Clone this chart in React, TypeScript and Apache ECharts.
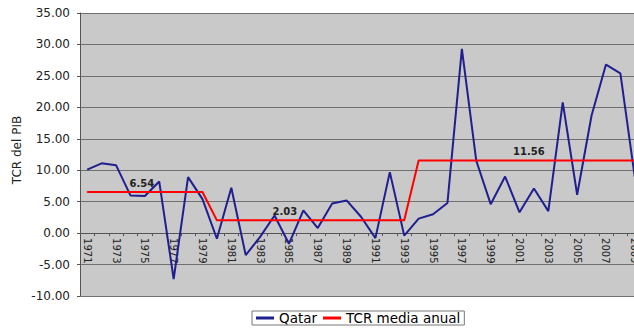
import React, { useEffect, useRef } from 'react';
import * as echarts from 'echarts';

const years = [
  '1971', '1972', '1973', '1974', '1975', '1976', '1977', '1978', '1979', '1980',
  '1981', '1982', '1983', '1984', '1985', '1986', '1987', '1988', '1989', '1990',
  '1991', '1992', '1993', '1994', '1995', '1996', '1997', '1998', '1999', '2000',
  '2001', '2002', '2003', '2004', '2005', '2006', '2007', '2008', '2009',
];

const qatar = [
  10.1, 11.1, 10.8, 6.0, 5.9, 8.2, -7.3, 8.9, 5.4, -0.9,
  7.2, -3.5, -0.6, 2.8, -1.7, 3.6, 0.8, 4.7, 5.2, 2.6,
  -0.8, 9.7, -0.4, 2.3, 3.0, 4.8, 29.3, 11.5, 4.6, 9.0,
  3.3, 7.1, 3.5, 20.8, 6.1, 18.7, 26.8, 25.4, 8.9,
];

const tcrMedia = [
  6.54, 6.54, 6.54, 6.54, 6.54, 6.54, 6.54, 6.54, 6.54, 2.03,
  2.03, 2.03, 2.03, 2.03, 2.03, 2.03, 2.03, 2.03, 2.03, 2.03,
  2.03, 2.03, 2.03, 11.56, 11.56, 11.56, 11.56, 11.56, 11.56, 11.56,
  11.56, 11.56, 11.56, 11.56, 11.56, 11.56, 11.56, 11.56, 11.56,
];

const labelYears = ['1975', '1985', '2002'];
const seriesNames = ['Qatar', 'TCR media anual'];
const yAxisTitle = 'TCR del PIB';
const yMin = -10;
const yMax = 35;

export default function App() {
  const ref = useRef<HTMLDivElement>(null);

  useEffect(() => {
    if (!ref.current) return;
    const chart = echarts.init(ref.current, null, { renderer: 'svg' });
    const gridTop = 13;
    const gridBottom = 38;
    const plotH = 334 - gridTop - gridBottom;
    // move the category axis up to the zero line
    const zeroOffset = -plotH * (0 - yMin) / (yMax - yMin);
    const labelOffsets: Record<string, number[]> = {
      '1975': [-3, 0],
      '1985': [-4, 0],
      '2002': [-5, 0],
    };
    const tcrData = tcrMedia.map((v, i) => {
      const y = years[i];
      if (labelYears.includes(y)) {
        return {
          value: v,
          label: {
            show: true,
            position: 'top',
            distance: 3,
            offset: labelOffsets[y],
            formatter: (p: any) => Number(p.value).toFixed(2),
            fontFamily: 'DejaVu Sans',
            fontWeight: 'bold',
            fontSize: 10,
            color: '#222',
          },
        };
      }
      return v;
    });

    chart.setOption({
      animation: false,
      backgroundColor: '#ffffff',
      grid: {
        left: 80,
        right: 0,
        top: gridTop,
        bottom: gridBottom,
        show: true,
        backgroundColor: '#c9c9c9',
        borderWidth: 0,
      },
      legend: {
        left: 252,
        top: 311,
        orient: 'horizontal',
        backgroundColor: '#ffffff',
        borderColor: '#777',
        borderWidth: 1,
        padding: [0, 4, 0, 4],
        itemGap: 6,
        itemWidth: 18,
        itemHeight: 3,
        icon: 'rect',
        textStyle: { fontFamily: 'DejaVu Sans', fontSize: 13.5, color: '#000' },
        data: seriesNames,
      },
      graphic: [
        {
          type: 'text',
          x: 17,
          y: 150,
          rotation: Math.PI / 2,
          style: {
            text: yAxisTitle,
            align: 'center',
            verticalAlign: 'middle',
            fontFamily: 'DejaVu Sans',
            fontSize: 12,
            fill: '#222',
          },
        },
      ],
      xAxis: {
        type: 'category',
        data: years,
        boundaryGap: true,
        offset: zeroOffset,
        axisLine: { onZero: false, lineStyle: { color: '#555', width: 1 } },
        axisTick: { show: true, interval: 0, length: 3, lineStyle: { color: '#555' } },
        axisLabel: {
          interval: 1,
          rotate: -90,
          margin: 5,
          fontFamily: 'DejaVu Sans',
          fontSize: 10,
          color: '#222',
        },
        splitLine: { show: false },
      },
      yAxis: {
        type: 'value',
        min: yMin,
        max: yMax,
        interval: 5,
        axisLine: { show: true, lineStyle: { color: '#555' } },
        axisTick: { show: true, length: 3, lineStyle: { color: '#555' } },
        axisLabel: {
          formatter: (v: number) => v.toFixed(2),
          margin: 10,
          fontFamily: 'DejaVu Sans',
          fontSize: 12,
          color: '#222',
        },
        splitLine: { show: true, lineStyle: { color: '#707070', width: 1 } },
      },
      series: [
        {
          name: seriesNames[0],
          type: 'line',
          data: qatar,
          symbol: 'none',
          lineStyle: { color: '#1f1f8f', width: 2 },
          itemStyle: { color: '#1f1f8f' },
        },
        {
          name: seriesNames[1],
          type: 'line',
          data: tcrData,
          symbol: 'circle',
          symbolSize: 1,
          showSymbol: true,
          showAllSymbol: true,
          lineStyle: { color: '#ff0000', width: 2 },
          itemStyle: { color: '#ff0000' },
        },
      ],
    });
    return () => chart.dispose();
  }, []);

  return (
    <div
      style={{
        position: 'absolute',
        left: 0,
        top: 0,
        width: 634,
        height: 334,
        overflow: 'hidden',
        background: '#fff',
      }}
    >
      <div ref={ref} style={{ width: 642, height: 334 }} />
    </div>
  );
}
